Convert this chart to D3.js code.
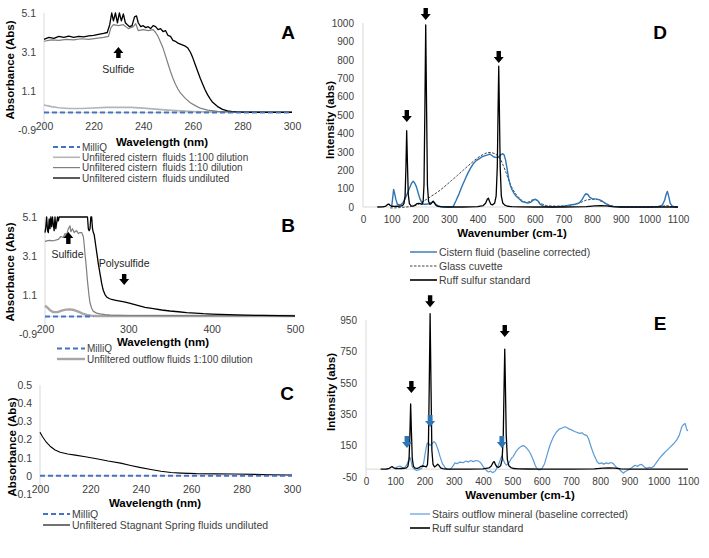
<!DOCTYPE html>
<html><head><meta charset="utf-8">
<script src="https://cdn.jsdelivr.net/npm/d3@7"></script>
<style>body{margin:0;background:#fff}svg{display:block;font-family:"Liberation Sans",Arial,sans-serif}</style>
</head><body><svg id="c" width="709" height="558"></svg>
<script>
// ---------------- DATA ----------------
// Panel A (wavelength nm, absorbance)
const aTicksX = [200, 220, 240, 260, 280, 300];
const aTicksY = [-0.9, 1.1, 3.1, 5.1];
const aMilliQ = [[200, 0], [250, 0], [300, 0]];
const aDil100 = [[200,0.38],[203,0.3],[206,0.24],[210,0.2],[215,0.2],[220,0.23],[225,0.26],[230,0.27],[235,0.26],[240,0.22],[245,0.17],[250,0.12],[255,0.08],[260,0.05],[265,0.03],[270,0.02],[280,0.01],[300,0.01]];
const aDil10 = [[200,3.65],[203,3.72],[206,3.7],[209,3.75],[212,3.72],[215,3.78],[218,3.75],[221,3.8],[224,3.85],[226,3.9],[227,4.35],[228,4.5],[230,4.45],[232,4.5],[234,4.3],[236,4.4],[237,4.55],[238,4.2],[240,4.25],[242,4.2],[244,4.25],[245,4.1],[246,3.9],[247,3.6],[248,3.3],[249,2.9],[250,2.5],[251,2.1],[252,1.75],[253,1.45],[254,1.2],[255,1.0],[257,0.72],[259,0.5],[261,0.35],[263,0.22],[266,0.12],[270,0.06],[275,0.03],[280,0.02],[290,0.01],[300,0.01]];
const aUndil = [[200,3.75],[202,3.85],[204,3.8],[206,3.9],[208,3.85],[210,3.92],[212,3.85],[214,3.9],[216,3.88],[218,3.93],[220,3.95],[222,4.0],[224,4.05],[225.5,4.1],[226.5,4.5],[227.3,5.1],[228,4.7],[228.8,5.1],[229.6,4.6],[230.4,5.1],[231.2,4.7],[232,5.05],[232.8,4.6],[233.6,4.5],[234.5,4.4],[235.5,4.45],[236.5,4.9],[237.3,4.95],[238,4.6],[239,4.4],[240,4.45],[241,4.35],[242,4.4],[243,4.3],[244,4.45],[245,4.4],[246,4.25],[247,4.3],[248,4.15],[249,4.2],[250,3.95],[251,3.9],[252,3.7],[253,3.65],[254,3.55],[255,3.5],[256,3.45],[257,3.4],[258,3.3],[259,3.1],[260,2.8],[261,2.45],[262,2.1],[263,1.75],[264,1.45],[265,1.15],[266,0.9],[267,0.7],[268,0.52],[270,0.3],[272,0.16],[274,0.08],[276,0.04],[280,0.02],[285,0.01],[290,0.01],[300,0.01]];

// Panel B
const bTicksX = [200, 300, 400, 500];
const bTicksY = [-0.9, 1.1, 3.1, 5.1];
const bMilliQ = [[200, 0], [230, 0], [258, 0]];
const bDil100 = [[200,0.55],[203,0.45],[206,0.32],[210,0.22],[215,0.22],[220,0.3],[225,0.35],[230,0.36],[235,0.33],[240,0.25],[245,0.15],[250,0.08],[255,0.04],[260,0.02],[270,0.02],[300,0.02],[400,0.02],[500,0.02]];
const bDil10 = [[200,3.85],[205,3.9],[210,3.88],[216,3.95],[219,4.1],[222,4.05],[224,4.25],[226,4.2],[228,4.5],[230,4.65],[231,4.35],[233,4.5],[235,4.3],[236,4.35],[238,4.4],[240,4.25],[242,4.3],[244,4.3],[246,4.1],[247,3.7],[248,3.2],[249,2.8],[250,2.3],[251,1.8],[252,1.4],[253,1.0],[254,0.7],[256,0.42],[258,0.26],[262,0.17],[266,0.13],[272,0.09],[278,0.07],[300,0.05],[400,0.04],[500,0.03]];
const bUndil = [[200,4.3],[201,4.6],[202,5.1],[203,4.4],[204,4.3],[205,5.0],[206,4.5],[207,5.1],[208,4.6],[209,5.1],[210,4.7],[211,4.4],[212,5.1],[213,4.5],[214,4.8],[215,5.1],[216,4.9],[217,5.1],[230,5.1],[240,5.1],[251,5.1],[252,4.5],[253,4.4],[254,4.5],[255,5.1],[256,5.1],[257,4.5],[258,4.3],[259,4.2],[260,3.9],[261,3.6],[262,3.3],[263,3.0],[264,2.7],[265,2.45],[266,2.2],[267,1.95],[268,1.7],[269,1.5],[270,1.33],[272,1.12],[274,1.0],[277,0.92],[280,0.87],[285,0.83],[290,0.79],[295,0.75],[300,0.69],[310,0.58],[320,0.47],[330,0.4],[340,0.33],[350,0.28],[360,0.24],[370,0.2],[380,0.17],[390,0.14],[400,0.12],[420,0.09],[440,0.07],[460,0.05],[480,0.04],[500,0.03]];

// Panel C
const cTicksX = [200, 220, 240, 260, 280, 300];
const cTicksY = [-0.1, 0, 0.1, 0.2, 0.3, 0.4, 0.5];
const cMilliQ = [[200, 0], [250, 0], [300, 0]];
const cStagnant = [[200,0.24],[201,0.215],[202.5,0.185],[204,0.163],[206,0.142],[208,0.13],[211,0.12],[214,0.114],[218,0.105],[223,0.093],[227,0.082],[232,0.07],[236,0.057],[240,0.045],[244,0.035],[248,0.025],[252,0.018],[256,0.015],[262,0.012],[270,0.011],[277,0.01],[285,0.008],[292,0.006],[300,0.005]];

// Panel D (Raman, wavenumber cm-1, intensity)
const ramanTicksX = [0,100,200,300,400,500,600,700,800,900,1000,1100];
const dTicksY = [0,100,200,300,400,500,600,700,800,900,1000];
const dCistern = [[100,0],[103,40],[107,96],[111,70],[115,40],[120,15],[128,12],[134,15],[140,25],[147,45],[155,75],[163,105],[170,130],[175,140],[180,132],[186,112],[192,80],[198,48],[205,25],[212,15],[220,15],[230,18],[240,25],[246,28],[252,18],[260,8],[270,3],[285,0],[300,0],[315,2],[325,35],[335,70],[345,110],[355,145],[365,180],[375,210],[385,235],[395,252],[405,262],[415,272],[425,278],[435,283],[443,288],[450,280],[457,272],[464,270],[470,268],[476,275],[482,285],[488,290],[493,282],[498,255],[503,210],[508,160],[514,120],[520,95],[527,75],[535,58],[545,45],[555,30],[565,25],[575,22],[585,25],[595,38],[602,42],[610,35],[618,15],[630,5],[645,2],[660,0],[680,2],[700,5],[720,10],[740,15],[755,22],[765,40],[772,60],[778,72],[785,68],[792,52],[800,45],[812,44],[825,40],[837,30],[848,18],[860,8],[875,2],[900,0],[950,0],[1000,0],[1030,2],[1045,10],[1053,35],[1058,65],[1063,85],[1068,55],[1073,20],[1080,5],[1090,0],[1100,0]];
const dGlass = [[95,-5],[110,-5],[130,-3],[150,0],[170,3],[190,12],[210,30],[230,50],[250,70],[270,92],[290,118],[310,145],[330,172],[350,200],[370,228],[390,255],[410,278],[430,293],[440,297],[450,295],[460,290],[470,280],[480,260],[490,225],[500,185],[510,140],[520,105],[530,78],[540,58],[550,42],[560,30],[570,25],[580,28],[590,38],[600,42],[610,35],[620,20],[640,8],[660,5],[690,5],[720,8],[745,15],[765,28],[780,38],[800,42],[820,40],[840,25],[860,10],[880,3],[920,0],[1000,0],[1040,2],[1060,8],[1075,2],[1100,0]];
const ruffSulfur = [[50,0],[70,1],[80,5],[86,14],[90,16],[95,8],[100,4],[110,3],[120,4],[130,5],[138,8],[143,18],[147,60],[150,220],[152.5,415],[155,250],[158,70],[162,18],[168,6],[175,5],[182,10],[188,18],[195,20],[200,18],[206,14],[210,30],[213,120],[216,520],[219,990],[222,540],[225,120],[229,30],[234,14],[240,22],[245,32],[249,24],[255,8],[262,3],[275,1],[300,0],[350,0],[400,2],[420,8],[428,20],[434,42],[438,48],[442,30],[447,14],[453,12],[460,22],[465,60],[469,220],[472,560],[474,765],[476,560],[479,220],[483,60],[488,22],[495,10],[505,4],[520,2],[550,1],[600,0],[700,0],[780,2],[810,6],[830,8],[850,6],[870,2],[900,0],[1000,0],[1100,0]];

// Panel E
const eTicksY = [-50, 150, 350, 550, 750, 950];
const eStairs = [[100,5],[108,15],[116,20],[125,10],[133,12],[140,30],[145,55],[149,78],[153,60],[158,15],[165,0],[173,-8],[182,-3],[190,5],[197,40],[203,110],[208,160],[213,170],[218,150],[225,160],[232,175],[238,165],[245,130],[253,80],[261,35],[270,10],[278,0],[287,-2],[295,15],[304,40],[312,35],[320,45],[333,42],[342,52],[350,45],[358,55],[366,48],[376,55],[384,52],[392,40],[401,15],[410,-5],[418,-18],[425,-12],[432,-22],[440,-15],[447,5],[452,25],[458,55],[464,85],[469,60],[475,35],[481,25],[490,45],[497,70],[503,80],[510,105],[520,130],[530,145],[538,150],[546,140],[555,120],[563,95],[572,55],[578,25],[583,5],[590,-5],[597,-3],[603,10],[610,35],[617,80],[623,120],[630,160],[640,205],[650,235],[660,255],[670,262],[680,270],[688,262],[695,255],[703,250],[712,240],[720,235],[730,228],[738,232],[745,220],[754,215],[760,195],[765,165],[772,125],[778,95],[784,70],[790,45],[797,35],[805,40],[812,32],[820,40],[828,35],[837,42],[845,35],[853,15],[862,5],[870,-10],[879,-25],[886,-15],[896,-5],[905,5],[912,15],[919,25],[928,18],[935,28],[942,30],[950,15],[959,5],[967,12],[976,8],[984,20],[993,45],[1003,70],[1016,98],[1028,120],[1039,140],[1050,160],[1061,185],[1070,215],[1079,270],[1085,285],[1090,291],[1094,265],[1097,245],[1100,250]];

// Annotation arrows (data units: [x, tip value])
const dArrows = [[153, 462], [219, 1016], [474, 783]];
const eBlackArrows = [[155, 485], [219, 1032], [474, 841]];
const eBlueArrows = [[140, 135], [219, 269], [464, 135]];

// ---------------- DRAW ----------------
const svg = d3.select("#c");
const TICK = "#404040", AXIS = "#d9d9d9";
const fmt1 = d => d === 0 ? "0" : d.toFixed(1);

function panel(o) {
  const g = svg.append("g");
  const x = d3.scaleLinear().domain(o.xd).range(o.xr);
  const y = d3.scaleLinear().domain(o.yd).range(o.yr);
  g.append("line").attr("x1", o.xr[0]).attr("x2", o.xr[0]).attr("y1", o.yr[1]).attr("y2", o.yr[0]).attr("stroke", AXIS);
  g.append("line").attr("x1", o.xr[0]).attr("x2", o.xr[1]).attr("y1", y(0)).attr("y2", y(0)).attr("stroke", AXIS);
  const ya = d3.axisLeft(y).tickValues(o.yt).tickFormat(o.yf || (d => d)).tickSize(0).tickPadding(o.ypad || 8);
  const yg = g.append("g").attr("transform", `translate(${o.xr[0]},0)`).call(ya);
  yg.select(".domain").remove();
  yg.selectAll("text").attr("fill", TICK).attr("font-size", o.fs).attr("font-family", "Liberation Sans, Arial, sans-serif");
  const xa = d3.axisBottom(x).tickValues(o.xt).tickFormat(d => d).tickSize(0).tickPadding(o.xpad);
  const xg = g.append("g").attr("transform", `translate(0,${y(0)})`).call(xa);
  xg.select(".domain").remove();
  xg.selectAll("text").attr("fill", TICK).attr("font-size", o.fs).attr("font-family", "Liberation Sans, Arial, sans-serif");
  g.append("text").attr("x", o.xTitle[0]).attr("y", o.xTitle[1]).attr("text-anchor", "middle").attr("dy", "0.35em")
    .attr("font-weight", "bold").attr("font-size", 11.5).attr("fill", "#000").text(o.xLabel);
  g.append("text").attr("transform", `translate(${o.yTitle[0]},${o.yTitle[1]}) rotate(-90)`).attr("text-anchor", "middle").attr("dy", "0.35em")
    .attr("font-weight", "bold").attr("font-size", 11.5).attr("fill", "#000").text(o.yLabel);
  g.append("text").attr("x", o.letter[0]).attr("y", o.letter[1]).attr("text-anchor", "middle").attr("dy", "0.35em")
    .attr("font-weight", "bold").attr("font-size", 19).attr("fill", "#000").text(o.letter[2]);
  return {g, x, y};
}

function series(p, data, st) {
  const line = d3.line().x(d => p.x(d[0])).y(d => p.y(d[1]));
  p.g.append("path").datum(data).attr("d", line).attr("fill", "none")
    .attr("stroke", st.c).attr("stroke-width", st.w).attr("stroke-dasharray", st.dash || null)
    .attr("stroke-linejoin", "round");
}

function arrow(g, cx, tip, dir, color, L = 12, hw = 5, sw = 2.2, hl = 6) {
  const s = dir; // 1 = pointing down, -1 = pointing up
  const pts = [[cx - sw, tip - s * L], [cx + sw, tip - s * L], [cx + sw, tip - s * hl], [cx + hw, tip - s * hl], [cx, tip], [cx - hw, tip - s * hl], [cx - sw, tip - s * hl]];
  g.append("path").attr("d", "M" + pts.map(p => p.join(",")).join("L") + "Z").attr("fill", color);
}

function legend(g, x0, x1, rows, fs) {
  rows.forEach(r => {
    g.append("line").attr("x1", x0).attr("x2", x1).attr("y1", r.y).attr("y2", r.y)
      .attr("stroke", r.c).attr("stroke-width", r.w).attr("stroke-dasharray", r.dash || null);
    g.append("text").attr("x", x1 + 2).attr("y", r.y).attr("dy", "0.35em").attr("font-size", fs).attr("fill", TICK)
      .style("white-space", "pre").attr("xml:space", "preserve").text(r.t);
  });
}

const BLUE_DASH = {c: "#4472c4", w: 2, dash: "5,3"};
const G100 = {c: "#b4b4b4", w: 1.6};
const G10 = {c: "#7f7f7f", w: 1.2};
const BLK = {c: "#000", w: 1.3};
const GLASS = {c: "#404040", w: 1, dash: "2.5,1.5"};

// ----- Panel A -----
const A = panel({xd: [200, 300], xr: [44, 292], yd: [-0.9, 5.1], yr: [130, 13], xt: aTicksX, yt: aTicksY, yf: d => d.toFixed(1),
  fs: 10.5, xpad: 10, xTitle: [162, 142], yTitle: [10, 70], xLabel: "Wavelength (nm)", yLabel: "Absorbance (Abs)", letter: [288, 32, "A"]});
series(A, aDil100, G100);
series(A, aDil10, G10);
series(A, aUndil, BLK);
series(A, aMilliQ, BLUE_DASH);
arrow(A.g, A.x(230), A.y(3.36), -1, "#000", 11, 5, 2.2, 6);
A.g.append("text").attr("x", A.x(230)).attr("y", A.y(2.23)).attr("dy", "0.35em").attr("text-anchor", "middle").attr("font-size", 10.5).attr("fill", "#262626").text("Sulfide");
legend(A.g, 53, 80, [
  Object.assign({y: 147, t: "MilliQ"}, BLUE_DASH),
  Object.assign({y: 157.3, t: "Unfiltered cistern  fluids 1:100 dilution"}, G100),
  Object.assign({y: 167.6, t: "Unfiltered cistern  fluids 1:10 dilution"}, G10),
  Object.assign({y: 178, t: "Unfiltered cistern  fluids undiluted"}, BLK)
], 10);

// ----- Panel B -----
const B = panel({xd: [200, 500], xr: [45, 295], yd: [-0.9, 5.1], yr: [334, 217], xt: bTicksX, yt: bTicksY, yf: d => d.toFixed(1),
  fs: 10.5, xpad: 9, xTitle: [163, 341.5], yTitle: [10, 272], xLabel: "Wavelength (nm)", yLabel: "Absorbance (Abs)", letter: [288, 225, "B"]});
series(B, bDil100, {c: "#a6a6a6", w: 2.4});
series(B, bDil10, G10);
series(B, bUndil, BLK);
series(B, bMilliQ, BLUE_DASH);
arrow(B.g, B.x(228), B.y(4.33), -1, "#000", 12, 5, 2.2, 6);
B.g.append("text").attr("x", B.x(227)).attr("y", B.y(3.2)).attr("dy", "0.35em").attr("text-anchor", "middle").attr("font-size", 10.5).attr("fill", "#262626").text("Sulfide");
B.g.append("text").attr("x", B.x(295)).attr("y", B.y(2.74)).attr("dy", "0.35em").attr("text-anchor", "middle").attr("font-size", 10.5).attr("fill", "#262626").text("Polysulfide");
arrow(B.g, B.x(295), B.y(1.61), 1, "#000", 11, 5, 2.2, 6);
legend(B.g, 57, 85, [
  Object.assign({y: 348.5, t: "MilliQ"}, BLUE_DASH),
  Object.assign({y: 359, t: "Unfiltered outflow fluids 1:100 dilution"}, {c: "#a6a6a6", w: 2.4})
], 10);

// ----- Panel C -----
const C = panel({xd: [200, 300], xr: [40, 292], yd: [-0.1, 0.5], yr: [494, 385], xt: cTicksX, yt: cTicksY, yf: fmt1,
  fs: 10.5, xpad: 10, xTitle: [155, 503], yTitle: [12, 447], xLabel: "Wavelength (nm)", yLabel: "Absorbance (Abs)", letter: [287, 393, "C"]});
series(C, cStagnant, {c: "#000", w: 1.1});
series(C, cMilliQ, BLUE_DASH);
legend(C.g, 43, 70, [
  Object.assign({y: 514, t: "MilliQ"}, BLUE_DASH),
  Object.assign({y: 525, t: "Unfiltered Stagnant Spring fluids undiluted"}, {c: "#000", w: 1.1})
], 10.5);

// ----- Panel D -----
const D = panel({xd: [0, 1100], xr: [363, 678], yd: [0, 1000], yr: [207, 23], xt: ramanTicksX, yt: dTicksY,
  fs: 10, xpad: 9, ypad: 9, xTitle: [512, 233], yTitle: [330, 120], xLabel: "Wavenumber (cm-1)", yLabel: "Intensity (abs)", letter: [660, 32, "D"]});
series(D, dGlass, GLASS);
series(D, dCistern, {c: "#2e75b6", w: 1.4});
series(D, ruffSulfur, BLK);
dArrows.forEach(a => arrow(D.g, D.x(a[0]), D.y(a[1]), 1, "#000", 12, 5, 2.2, 6));
legend(D.g, 410, 437, [
  {y: 252, t: "Cistern fluid (baseline corrected)", c: "#2e75b6", w: 1.4},
  Object.assign({y: 266, t: "Glass cuvette"}, GLASS),
  {y: 280, t: "Ruff sulfur standard", c: "#000", w: 1.6}
], 10.5);

// ----- Panel E -----
const E = panel({xd: [0, 1100], xr: [366, 688], yd: [-50, 950], yr: [477, 320], xt: ramanTicksX, yt: eTicksY,
  fs: 10, xpad: 9, ypad: 9, xTitle: [520, 495], yTitle: [331, 392], xLabel: "Wavenumber (cm-1)", yLabel: "Intensity (abs)", letter: [660, 323, "E"]});
series(E, eStairs, {c: "#5b9bd5", w: 1.2});
series(E, ruffSulfur, BLK);
eBlackArrows.forEach(a => arrow(E.g, E.x(a[0]), E.y(a[1]), 1, "#000", 12, 5, 2.2, 6));
eBlueArrows.forEach(a => arrow(E.g, E.x(a[0]), E.y(a[1]), 1, "#2e75b6", 12, 5, 2.4, 6));
legend(E.g, 410, 430, [
  {y: 514, t: "Stairs outflow mineral (baseline corrected)", c: "#5b9bd5", w: 1.2},
  {y: 528, t: "Ruff sulfur standard", c: "#000", w: 1.6}
], 10.5);
</script></body></html>
